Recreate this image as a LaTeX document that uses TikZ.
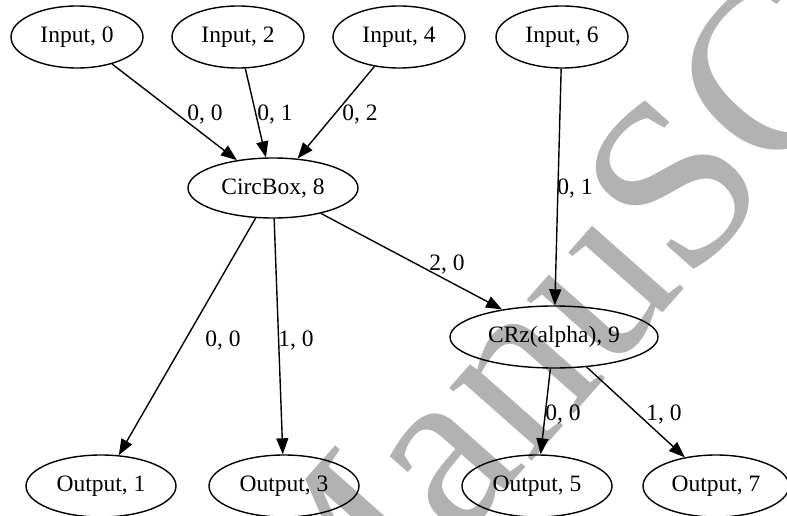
\documentclass[tikz,border=0pt]{standalone}
\usepackage{fontspec}
\setmainfont{Liberation Serif}
\usetikzlibrary{shapes.geometric,arrows.meta}
\newcommand\gfont{\fontsize{23.5bp}{28bp}\selectfont}
\newcommand\markfont{\fontsize{240bp}{240bp}\selectfont}
\begin{document}
\begin{tikzpicture}[x=1bp,y=-1bp,
  gnode/.style={ellipse,draw,line width=1.4bp,inner sep=0pt,font=\gfont,minimum height=62bp},
  innode/.style={gnode,minimum width=132bp},
  outnode/.style={gnode,minimum width=150bp},
  wire/.style={line width=1.4bp,-{Triangle[length=16bp,width=12bp]}},
  lbl/.style={font=\gfont,inner sep=0pt,anchor=base},
  wm/.style={anchor=base west,rotate=48.5,inner sep=0pt,text=black!30,font=\markfont}]
\useasboundingbox (0,0) rectangle (787,516);
\clip (0,0) rectangle (787,516);
\fill[white] (0,0) rectangle (787,516);
% background stamp
\node[wm] (stamp) at (315.9,704.9) {ManuSC};
% inputs
\node[innode] (in0) at (77,37) {Input, 0};
\node[innode] (in2) at (238,37) {Input, 2};
\node[innode] (in4) at (399,37) {Input, 4};
\node[innode] (in6) at (562,37) {Input, 6};
% operations
\node[gnode,minimum width=170bp,minimum height=60bp] (cb) at (273,188) {CircBox, 8};
\node[gnode,minimum width=208bp] (crz) at (554,337) {CRz(alpha), 9};
% outputs
\node[outnode] (out1) at (101,486) {Output, 1};
\node[outnode] (out3) at (284,486) {Output, 3};
\node[outnode] (out5) at (537,486) {Output, 5};
\node[outnode,minimum width=146bp] (out7) at (716,486) {Output, 7};
% wires
\draw[wire] (in0) -- (cb);
\draw[wire] (in2) -- (cb);
\draw[wire] (in4) -- (cb);
\draw[wire] (in6) -- (crz);
\draw[wire] (cb) -- (crz);
\draw[wire] (cb) -- (out1);
\draw[wire] (cb) -- (out3);
\draw[wire] (crz) -- (out5);
\draw[wire] (crz) -- (out7);
% port labels
\node[lbl] (l0) at (205,121) {0, 0};
\node[lbl] (l1) at (275,121) {0, 1};
\node[lbl] (l2) at (360,121) {0, 2};
\node[lbl] (l3) at (575,195) {0, 1};
\node[lbl] (l4) at (447,271) {2, 0};
\node[lbl] (l5) at (223,346) {0, 0};
\node[lbl] (l6) at (296,346) {1, 0};
\node[lbl] (l7) at (563,420) {0, 0};
\node[lbl] (l8) at (664,420) {1, 0};
\end{tikzpicture}
\end{document}
